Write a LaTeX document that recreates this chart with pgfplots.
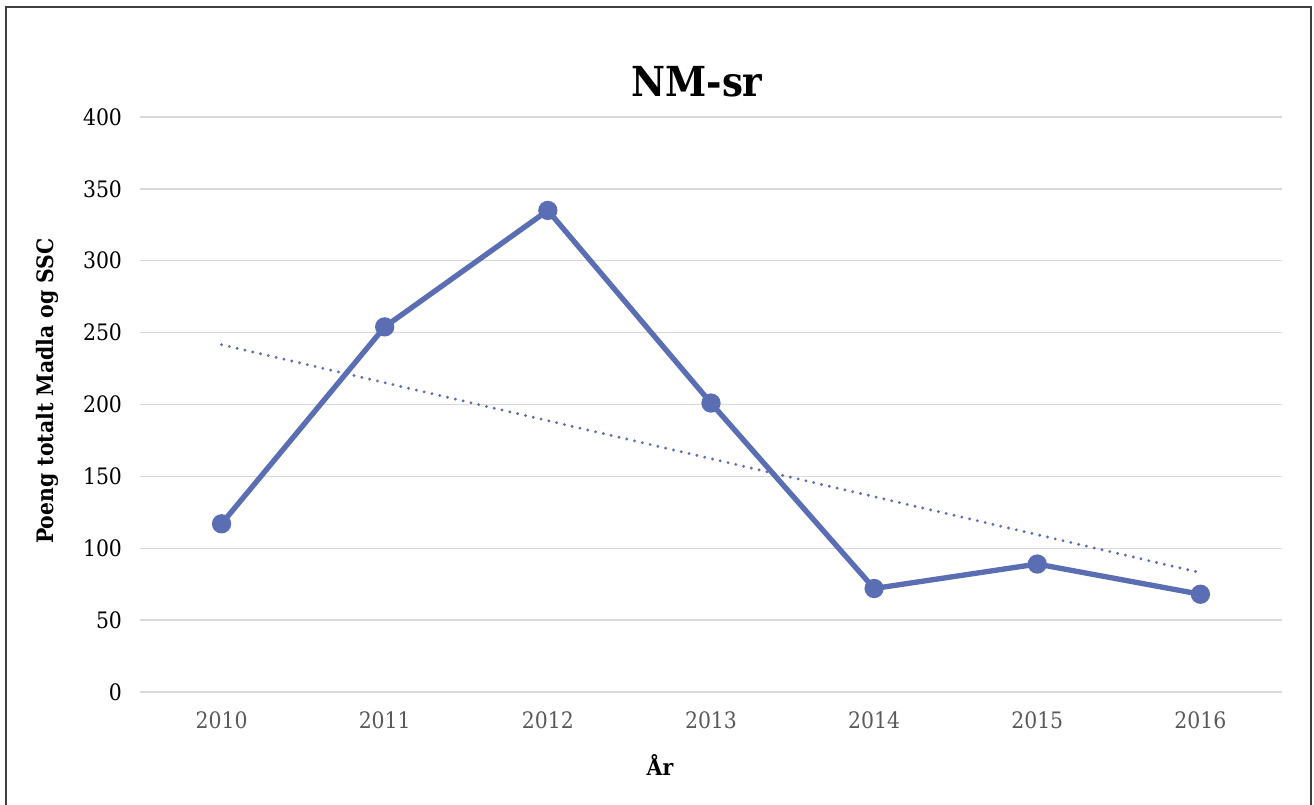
\documentclass[border=0pt]{standalone}
\usepackage{fontspec}
\setmainfont{DejaVu Serif Condensed}
\usepackage{pgfplots}
\pgfplotsset{compat=1.18}
\definecolor{serie}{HTML}{5B6EB4}
\definecolor{gridc}{HTML}{D9D9D9}
\definecolor{xlab}{HTML}{595959}
\begin{document}
\begin{tikzpicture}[x=0.75pt,y=0.75pt]
\useasboundingbox (0,0) rectangle (1314,805);
\draw[line width=1.5pt,black!75] (6,-20) rectangle (1311,798);
\begin{axis}[
  at={(105pt,84.75pt)}, anchor=south west,
  scale only axis, width=856.5pt, height=431.25pt,
  xmin=-0.5, xmax=6.5, ymin=0, ymax=400,
  axis line style={draw=none},
  xtick={0,...,6}, xticklabels={2010,2011,2012,2013,2014,2015,2016},
  ytick={0,50,...,400},
  major tick length=0pt,
  ymajorgrids, grid style={gridc, line width=1.1pt},
  tick label style={font=\fontsize{17}{20}\selectfont},
  x tick label style={text=xlab, yshift=-11pt},
  y tick label style={text=black, xshift=-10pt},
  /pgf/number format/assume math mode=true,
  clip=false,
]
\addplot[serie, line width=2.4pt, line cap=round, dash pattern=on 0pt off 6pt, forget plot] coordinates {(0,241.6) (6,83.0)};
\addplot[serie, line width=4pt, mark=*, mark size=5.2pt, mark options={solid}] coordinates {
(0,117) (1,254) (2,335) (3,201) (4,72) (5,89) (6,68)};
\end{axis}
\node[font=\bfseries\fontsize{31}{36}\selectfont] at (697,723) {NM-sr};
\node[font=\bfseries\fontsize{17}{20}\selectfont] at (660,40) {År};
\node[font=\bfseries\fontsize{17}{20}\selectfont, rotate=90] at (47,414) {Poeng totalt Madla og SSC};
\end{tikzpicture}
\end{document}
